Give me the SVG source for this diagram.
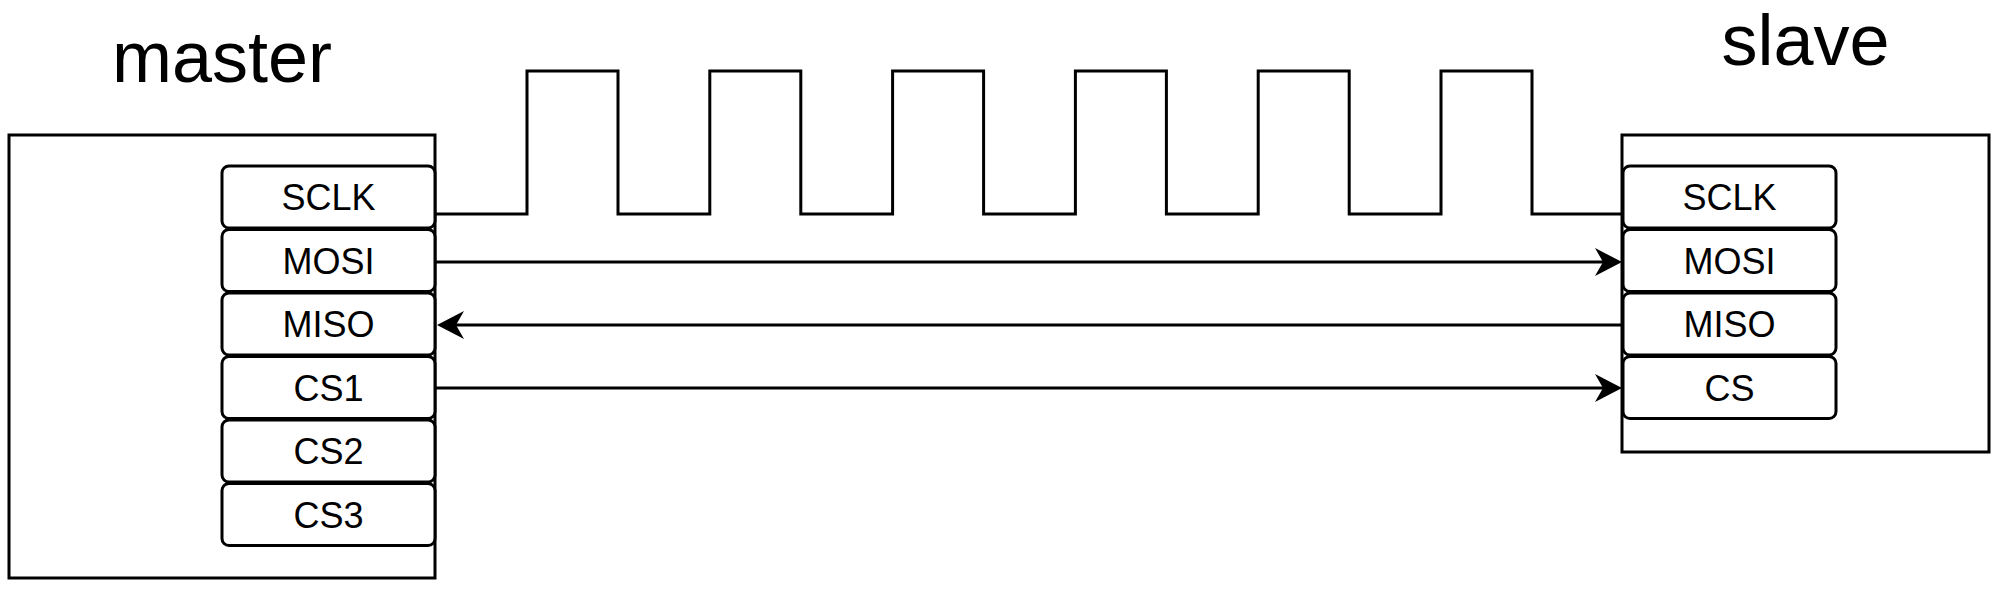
<svg xmlns="http://www.w3.org/2000/svg" width="2001" height="591" viewBox="0 0 2001 591">
<style>
.box{fill:#fff;stroke:#000;stroke-width:3}
.pin{fill:#fff;stroke:#000;stroke-width:3}
.pt{font-family:"Liberation Sans",Arial,sans-serif;font-size:36px;text-anchor:middle;fill:#000}
.title{font-family:"Liberation Sans",Arial,sans-serif;font-size:72px;text-anchor:middle;fill:#000}
.wire{fill:none;stroke:#000;stroke-width:3}
</style>
<defs>
<marker id="arr" markerUnits="userSpaceOnUse" viewBox="0 0 27 28" refX="8" refY="14" markerWidth="27" markerHeight="28" orient="auto">
<path d="M0,0 L27,14 L0,28 L8,14 Z" fill="#000"/>
</marker>
</defs>
<rect width="2001" height="591" fill="#fff"/>
<g id="master">
<rect class="box" x="9" y="135" width="426" height="443"/>
<text class="title" x="222" y="82">master</text>
</g>
<g id="slave">
<rect class="box" x="1622" y="135" width="367" height="317"/>
<text class="title" x="1805.5" y="65">slave</text>
</g>
<g id="m-sclk"><rect class="pin" x="222" y="166" width="213" height="62" rx="7"/><text class="pt" x="328.5" y="210">SCLK</text></g>
<g id="m-mosi"><rect class="pin" x="222" y="229.5" width="213" height="62" rx="7"/><text class="pt" x="328.5" y="273.5">MOSI</text></g>
<g id="m-miso"><rect class="pin" x="222" y="293" width="213" height="62" rx="7"/><text class="pt" x="328.5" y="337">MISO</text></g>
<g id="m-cs1"><rect class="pin" x="222" y="356.5" width="213" height="62" rx="7"/><text class="pt" x="328.5" y="400.5">CS1</text></g>
<g id="m-cs2"><rect class="pin" x="222" y="420" width="213" height="62" rx="7"/><text class="pt" x="328.5" y="464">CS2</text></g>
<g id="m-cs3"><rect class="pin" x="222" y="483.5" width="213" height="62" rx="7"/><text class="pt" x="328.5" y="527.5">CS3</text></g>
<g id="s-sclk"><rect class="pin" x="1623" y="166" width="213" height="62" rx="7"/><text class="pt" x="1729.5" y="210">SCLK</text></g>
<g id="s-mosi"><rect class="pin" x="1623" y="229.5" width="213" height="62" rx="7"/><text class="pt" x="1729.5" y="273.5">MOSI</text></g>
<g id="s-miso"><rect class="pin" x="1623" y="293" width="213" height="62" rx="7"/><text class="pt" x="1729.5" y="337">MISO</text></g>
<g id="s-cs"><rect class="pin" x="1623" y="356.5" width="213" height="62" rx="7"/><text class="pt" x="1729.5" y="400.5">CS</text></g>
<g id="connectors">
<path class="wire" d="M435,214 H527 V71 H618 V214 H709.8 V71 H800.8 V214 H892.6 V71 H983.6 V214 H1075.4 V71 H1166.4 V214 H1258.2 V71 H1349.2 V214 H1441 V71 H1532 V214 H1622"/>
<path class="wire" d="M435,262 H1603" marker-end="url(#arr)"/>
<path class="wire" d="M1622,325 H456" marker-end="url(#arr)"/>
<path class="wire" d="M435,388 H1603" marker-end="url(#arr)"/>
</g>
</svg>
